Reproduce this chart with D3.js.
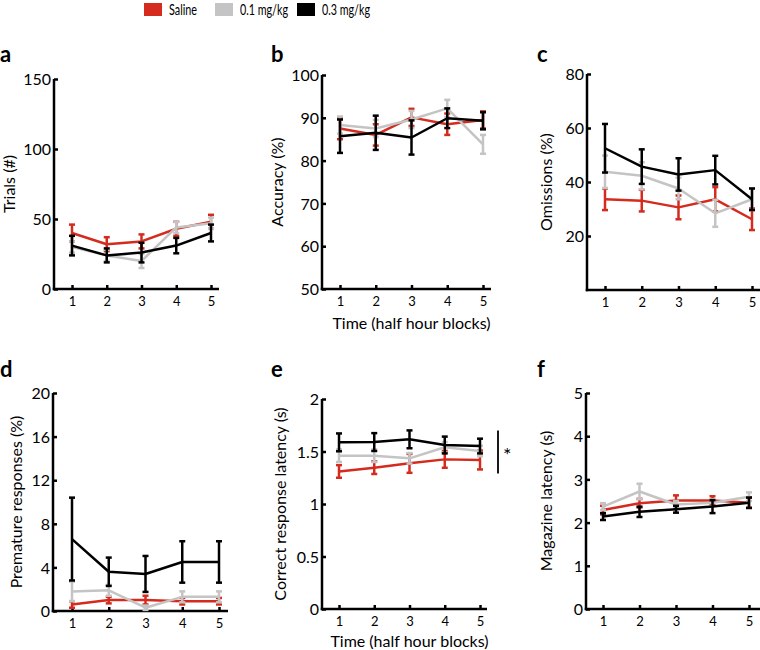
<!DOCTYPE html>
<html>
<head>
<meta charset="utf-8">
<script src="https://cdn.jsdelivr.net/npm/d3@7"></script>
<style>
  html, body { margin: 0; padding: 0; background: #fff; }
  svg { display: block; }
  text { font-family: "Lato", "Liberation Sans", sans-serif; fill: #000; }
</style>
</head>
<body>
<svg id="chart" width="760" height="650"></svg>
<script>
// ---------------- DATA ----------------
const blocks = [1, 2, 3, 4, 5];
const groups = ["Saline", "0.1 mg/kg", "0.3 mg/kg"];
const groupColors = ["#d52b1e", "#c4c4c4", "#000000"];

// each array: [Saline, 0.1 mg/kg, 0.3 mg/kg]
const trialsMean = [[40, 32, 34, 43, 48], [30, 24, 20, 44, 47], [31, 24, 26, 31, 40]];
const trialsErr  = [[6, 5, 5, 5, 5], [4, 4, 5, 4, 4], [7, 5, 7, 5.5, 6]];

const accuracyMean = [[87.5, 86, 90.1, 88.5, 89.5], [88.3, 87.5, 89.6, 92.2, 83.8], [85.7, 86.5, 85.4, 89.9, 89.3]];
const accuracyErr  = [[2.5, 2.5, 2, 2.5, 2], [2, 2, 2, 2, 2.2], [3.9, 4, 4, 2.3, 2]];

const omissionsMean = [[33.6, 33.1, 30.6, 33.6, 26.2], [43.8, 42.3, 37.6, 28.4, 33.6], [52.5, 45.7, 42.8, 44.4, 33.6]];
const omissionsErr  = [[4, 4, 4.4, 4.5, 4], [6, 5, 4, 5, 4], [9, 6.4, 6, 5.3, 4]];

const prematureMean = [[0.6, 1.0, 1.0, 0.9, 0.9], [1.8, 1.9, 0.3, 1.3, 1.3], [6.6, 3.6, 3.4, 4.5, 4.5]];
const prematureErr  = [[0.3, 0.3, 0.4, 0.3, 0.3], [0.9, 0.5, 0.2, 0.5, 0.5], [3.8, 1.3, 1.65, 1.9, 1.9]];

const correctLatMean = [[1.31, 1.346, 1.387, 1.425, 1.419], [1.46, 1.46, 1.435, 1.54, 1.505], [1.587, 1.59, 1.616, 1.562, 1.552]];
const correctLatErr  = [[0.06, 0.06, 0.09, 0.08, 0.09], [0.06, 0.06, 0.05, 0.05, 0.05], [0.085, 0.085, 0.085, 0.08, 0.07]];

const magazineMean = [[2.29, 2.45, 2.51, 2.51, 2.46], [2.37, 2.72, 2.42, 2.46, 2.6], [2.14, 2.25, 2.31, 2.37, 2.46]];
const magazineErr  = [[0.1, 0.1, 0.12, 0.1, 0.12], [0.08, 0.18, 0.08, 0.08, 0.1], [0.08, 0.12, 0.08, 0.15, 0.12]];

const trialsTicks = [0, 50, 100, 150];
const accuracyTicks = [50, 60, 70, 80, 90, 100];
const omissionsTicks = [20, 40, 60, 80];
const prematureTicks = [0, 4, 8, 12, 16, 20];
const correctLatTicks = [0, 0.5, 1, 1.5, 2];
const magazineTicks = [0, 1, 2, 3, 4, 5];

const xTitle = "Time (half hour blocks)";

// ---------------- LAYOUT ----------------
const panels = [
  { letter: "a", mean: trialsMean, err: trialsErr, domain: [0, 150], ticks: trialsTicks,
    ylabel: "Trials (#)", axisX: 54, x1: 72, x5: 211, xEnd: 219, yBot: 289, yTop: 79,
    letterPos: [0, 62], ylabelX: 15, xtitle: false },
  { letter: "b", mean: accuracyMean, err: accuracyErr, domain: [50, 100], ticks: accuracyTicks,
    ylabel: "Accuracy (%)", axisX: 322, x1: 340, x5: 483, xEnd: 491, yBot: 289, yTop: 75,
    letterPos: [271, 62], ylabelX: 283, xtitle: true, titleY: 329 },
  { letter: "c", mean: omissionsMean, err: omissionsErr, domain: [0, 80], ticks: omissionsTicks,
    ylabel: "Omissions (%)", axisX: 587, x1: 605, x5: 752, xEnd: 760, yBot: 290, yTop: 74,
    letterPos: [537, 62], ylabelX: 552, xtitle: false },
  { letter: "d", mean: prematureMean, err: prematureErr, domain: [0, 20], ticks: prematureTicks,
    ylabel: "Premature responses (%)", axisX: 53, x1: 72, x5: 219, xEnd: 228, yBot: 611, yTop: 393,
    letterPos: [0, 377], ylabelX: 22, xtitle: false },
  { letter: "e", mean: correctLatMean, err: correctLatErr, domain: [0, 2], ticks: correctLatTicks,
    ylabel: "Correct response latency (s)", axisX: 322, x1: 339, x5: 480, xEnd: 487, yBot: 609, yTop: 399,
    letterPos: [271, 377], ylabelX: 286, xtitle: true, titleY: 647, sig: true },
  { letter: "f", mean: magazineMean, err: magazineErr, domain: [0, 5], ticks: magazineTicks,
    ylabel: "Magazine latency (s)", axisX: 586, x1: 603, x5: 749, xEnd: 760, yBot: 609, yTop: 393,
    letterPos: [537, 377], ylabelX: 552, xtitle: false }
];

const svg = d3.select("#chart");

// ---------------- LEGEND ----------------
const legendX = [144, 215, 297];
const legendTextW = [28, 48, 48];
const legend = svg.append("g");
groups.forEach((g, i) => {
  legend.append("rect").attr("x", legendX[i]).attr("y", 3).attr("width", 18).attr("height", 13)
    .attr("fill", groupColors[i]);
  const t = legend.append("text").attr("x", legendX[i] + 25).attr("y", 14.5)
    .attr("font-size", 15)
    .style("font-family", '"Liberation Sans Narrow", "Lato", sans-serif')
    .text(g);
  const w = t.node().getComputedTextLength();
  if (w > legendTextW[i] + 2) {
    t.attr("textLength", legendTextW[i]).attr("lengthAdjust", "spacingAndGlyphs");
  }
});

// ---------------- PANELS ----------------
panels.forEach(p => {
  const g = svg.append("g");
  const x = d3.scaleLinear().domain([1, 5]).range([p.x1, p.x5]);
  const y = d3.scaleLinear().domain(p.domain).range([p.yBot, p.yTop]);

  // panel letter
  g.append("text").attr("x", p.letterPos[0]).attr("y", p.letterPos[1])
    .attr("font-size", 22).attr("font-weight", "bold").text(p.letter);

  // y axis
  const yAxis = d3.axisLeft(y).tickValues(p.ticks).tickFormat(d => d)
    .tickSizeInner(-4).tickSizeOuter(0).tickPadding(3);
  const yg = g.append("g").attr("transform", `translate(${p.axisX},0)`).call(yAxis);
  yg.select(".domain").remove();
  yg.selectAll(".tick line").attr("stroke", "#000").attr("stroke-width", 2.5);
  yg.selectAll(".tick text").attr("font-size", 16).attr("font-family", null).attr("dy", "0.36em");

  // x axis
  const xAxis = d3.axisBottom(x).tickValues(blocks).tickFormat(d3.format("d"))
    .tickSizeInner(-4).tickSizeOuter(0).tickPadding(8);
  const xg = g.append("g").attr("transform", `translate(0,${p.yBot})`).call(xAxis);
  xg.select(".domain").remove();
  xg.selectAll(".tick line").attr("stroke", "#000").attr("stroke-width", 2.5);
  xg.selectAll(".tick text").attr("font-size", 13).attr("font-family", null);

  // axis lines
  g.append("line").attr("x1", p.axisX).attr("x2", p.axisX)
    .attr("y1", y(p.domain[1])).attr("y2", p.yBot + 1.25)
    .attr("stroke", "#000").attr("stroke-width", 2.5);
  g.append("line").attr("x1", p.axisX - 1.25).attr("x2", p.xEnd)
    .attr("y1", p.yBot).attr("y2", p.yBot)
    .attr("stroke", "#000").attr("stroke-width", 2.5);

  // y label
  const ymid = (p.yBot + y(p.domain[1])) / 2;
  g.append("text")
    .attr("transform", `translate(${p.ylabelX},${ymid}) rotate(-90)`)
    .attr("text-anchor", "middle").attr("font-size", 16).text(p.ylabel);

  // x title
  if (p.xtitle) {
    g.append("text").attr("x", (p.x1 + p.x5) / 2).attr("y", p.titleY)
      .attr("text-anchor", "middle").attr("font-size", 16).text(xTitle);
  }

  // series
  const line = d3.line().x((d, i) => x(blocks[i])).y(d => y(d));
  p.mean.forEach((series, gi) => {
    const col = groupColors[gi];
    const sg = g.append("g");
    series.forEach((m, i) => {
      const e = p.err[gi][i];
      const cx = x(blocks[i]);
      sg.append("line").attr("x1", cx).attr("x2", cx)
        .attr("y1", y(m - e)).attr("y2", y(m + e))
        .attr("stroke", col).attr("stroke-width", 2.5);
      [m - e, m + e].forEach(v => {
        sg.append("line").attr("x1", cx - 3).attr("x2", cx + 3)
          .attr("y1", y(v)).attr("y2", y(v))
          .attr("stroke", col).attr("stroke-width", 2.5);
      });
    });
    sg.append("path").datum(series).attr("d", line)
      .attr("fill", "none").attr("stroke", col).attr("stroke-width", 2.5)
      .attr("stroke-linejoin", "round");
  });

  // significance marker
  if (p.sig) {
    g.append("line").attr("x1", 498).attr("x2", 498)
      .attr("y1", y(1.7)).attr("y2", y(1.29))
      .attr("stroke", "#000").attr("stroke-width", 1.8);
    g.append("text").attr("x", 503).attr("y", y(1.4)).attr("font-size", 20).text("*");
  }
});
</script>
</body>
</html>
